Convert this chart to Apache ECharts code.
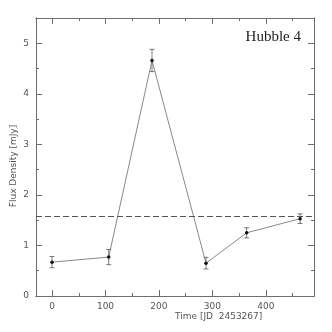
<!DOCTYPE html>
<html>
<head>
<meta charset="utf-8">
<script src="https://cdn.jsdelivr.net/npm/echarts@6/dist/echarts.min.js"></script>
<style>
  html, body { margin:0; padding:0; background:#fff; }
  #chart { width:332px; height:332px; }
</style>
</head>
<body>
<div id="chart"></div>
<script>
// light curve values
var timeDays = [0, 106, 187, 288, 364, 464];
var fluxMJy  = [0.67, 0.77, 4.66, 0.65, 1.25, 1.53];
var fluxErr  = [0.11, 0.15, 0.22, 0.115, 0.10, 0.095];
var meanLevel = 1.58;

var xMajor = [0, 100, 200, 300, 400];
var xMinor = [50, 150, 250, 350, 450];
var yMajor = [0, 1, 2, 3, 4, 5];
var yMinor = [0.5, 1.5, 2.5, 3.5, 4.5];

var axisColor = '#6e6e6e';
var labelFont = { color:'#555', fontFamily:'DejaVu Sans', fontSize:9 };

// one axis per tick set, so that major/minor ticks show on all four sides
function xAxisFor(pos, ticks, len, showLabel) {
	return {
		type:'value', position:pos, min:-30, max:490, gridIndex:0,
		axisLine:{ show:true, onZero:false, lineStyle:{ color:axisColor, width:1 } },
		axisTick:{ show:true, inside:true, length:len, customValues:ticks, lineStyle:{ color:axisColor } },
		axisLabel:{ show:showLabel, customValues:ticks, margin:6, color:labelFont.color,
			fontFamily:labelFont.fontFamily, fontSize:labelFont.fontSize },
		splitLine:{ show:false }
	};
}
function yAxisFor(pos, ticks, len, showLabel) {
	return {
		type:'value', position:pos, min:0, max:5.5, gridIndex:0,
		axisLine:{ show:true, onZero:false, lineStyle:{ color:axisColor, width:1 } },
		axisTick:{ show:true, inside:true, length:len, customValues:ticks, lineStyle:{ color:axisColor } },
		axisLabel:{ show:showLabel, customValues:ticks, margin:7, color:labelFont.color,
			fontFamily:labelFont.fontFamily, fontSize:labelFont.fontSize },
		splitLine:{ show:false }
	};
}

var xAxes = [
	xAxisFor('bottom', xMajor, 6, true),
	xAxisFor('bottom', xMinor, 3, false),
	xAxisFor('top', xMajor, 6, false),
	xAxisFor('top', xMinor, 3, false)
];
var yAxes = [
	yAxisFor('left', yMajor, 6, true),
	yAxisFor('left', yMinor, 3, false),
	yAxisFor('right', yMajor, 6, false),
	yAxisFor('right', yMinor, 3, false)
];

var points = timeDays.map(function(t, i){ return [t, fluxMJy[i]]; });
var bars = timeDays.map(function(t, i){ return [t, fluxMJy[i] - fluxErr[i], fluxMJy[i] + fluxErr[i]]; });

var chart = echarts.init(document.getElementById('chart'), null, { renderer:'canvas' });
chart.setOption({
	animation:false,
	backgroundColor:'#fff',
	grid:{ left:36, top:18, right:18, bottom:36 },
	xAxis:xAxes,
	yAxis:yAxes,
	graphic:[
		{ type:'text', right:31, top:30, style:{ text:'Hubble 4', fill:'#222',
			font:'15px "Liberation Serif"' } },
		{ type:'text', left:175, top:312, style:{ text:'Time [JD  2453267]', fill:'#555',
			font:'9px "DejaVu Sans"', textAlign:'center' } },
		{ type:'text', x:9, y:166, rotation:Math.PI/2, style:{ text:'Flux Density [mJy]', fill:'#555',
			font:'9px "DejaVu Sans"', textAlign:'center', textVerticalAlign:'top' } }
	],
	series:[
		{
			type:'line', xAxisIndex:0, yAxisIndex:0,
			data:points,
			symbol:'circle', symbolSize:3.5,
			itemStyle:{ color:'#111' },
			lineStyle:{ color:'#6a6a6a', width:0.8 },
			markLine:{
				silent:true, symbol:'none', label:{ show:false },
				lineStyle:{ color:'#555', width:1, type:[6, 3] },
				data:[{ yAxis:meanLevel }]
			},
			z:3
		},
		{
			type:'custom', xAxisIndex:0, yAxisIndex:0,
			data:bars,
			renderItem:function(params, api){
				var lo = api.coord([api.value(0), api.value(1)]);
				var hi = api.coord([api.value(0), api.value(2)]);
				var w = 2.5;
				var st = { stroke:'#555', lineWidth:0.8, fill:null };
				return { type:'group', children:[
					{ type:'line', shape:{ x1:lo[0], y1:lo[1], x2:hi[0], y2:hi[1] }, style:st },
					{ type:'line', shape:{ x1:lo[0]-w, y1:lo[1], x2:lo[0]+w, y2:lo[1] }, style:st },
					{ type:'line', shape:{ x1:hi[0]-w, y1:hi[1], x2:hi[0]+w, y2:hi[1] }, style:st }
				]};
			},
			z:2
		}
	]
});
</script>
</body>
</html>
